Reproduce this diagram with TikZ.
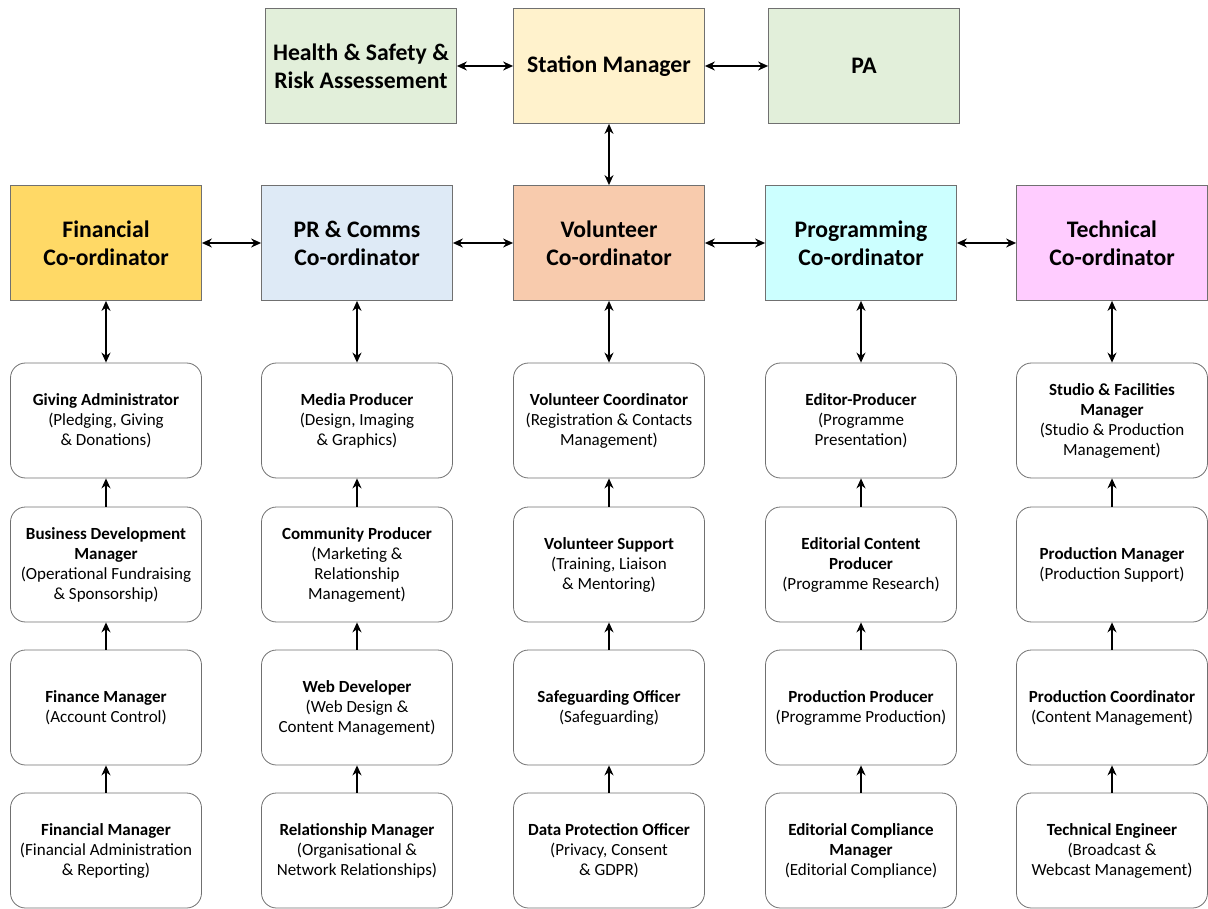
\documentclass[tikz,border=0pt]{standalone}
\usepackage{fontspec}
\setmainfont{Carlito}
\usetikzlibrary{arrows.meta}
\definecolor{cfin}{HTML}{FFD966}
\definecolor{cpr}{HTML}{DEEAF6}
\definecolor{cvol}{HTML}{F8CBAD}
\definecolor{cprog}{HTML}{CCFFFF}
\definecolor{ctech}{HTML}{FFCCFF}
\definecolor{csm}{HTML}{FFF2CC}
\definecolor{cgreen}{HTML}{E2EFDA}
\definecolor{cbord}{HTML}{707070}
\begin{document}
\begin{tikzpicture}[x=1pt,y=-1pt,
 topbox/.style={draw=cbord, line width=0.8pt, minimum width=191pt, minimum height=115pt, font=\fontsize{23.7}{28}\selectfont\bfseries, align=center, inner sep=0pt},
 subbox/.style={draw=cbord, line width=0.8pt, fill=white, rounded corners=15pt, minimum width=191pt, minimum height=115pt, font=\fontsize{17}{20}\selectfont, align=center, inner sep=0pt},
 link/.style={{Stealth[length=10pt,width=9pt]}-{Stealth[length=10pt,width=9pt]}, line width=1.3pt},
 uplink/.style={-{Stealth[length=10pt,width=9pt]}, line width=1.3pt}]
\useasboundingbox (0,0) rectangle (1208,909);

% top row
\node[topbox, fill=cgreen] (hs) at (361,66) {Health \& Safety \&\\Risk Assessement};
\node[topbox, fill=csm] (sm) at (609,66) {Station Manager};
\node[topbox, fill=cgreen] (pa) at (864,66) {PA};

% coordinators
\node[topbox, fill=cfin] (fin) at (106,243) {Financial\\Co-ordinator};
\node[topbox, fill=cpr] (pr) at (357,243) {PR \& Comms\\Co-ordinator};
\node[topbox, fill=cvol] (vol) at (609,243) {Volunteer\\Co-ordinator};
\node[topbox, fill=cprog] (prog) at (861,243) {Programming\\Co-ordinator};
\node[topbox, fill=ctech] (tech) at (1112,243) {Technical\\Co-ordinator};

% financial column
\node[subbox] (f1) at (106,420.5) {\textbf{Giving Administrator}\\(Pledging, Giving\\\& Donations)};
\node[subbox] (f2) at (106,564.5) {\textbf{Business Development}\\\textbf{Manager}\\(Operational Fundraising\\\& Sponsorship)};
\node[subbox] (f3) at (106,707.5) {\textbf{Finance Manager}\\(Account Control)};
\node[subbox] (f4) at (106,850.5) {\textbf{Financial Manager}\\(Financial Administration\\\& Reporting)};

% PR column
\node[subbox] (p1) at (357,420.5) {\textbf{Media Producer}\\(Design, Imaging\\\& Graphics)};
\node[subbox] (p2) at (357,564.5) {\textbf{Community Producer}\\(Marketing \&\\Relationship\\Management)};
\node[subbox] (p3) at (357,707.5) {\textbf{Web Developer}\\(Web Design \&\\Content Management)};
\node[subbox] (p4) at (357,850.5) {\textbf{Relationship Manager}\\(Organisational \&\\Network Relationships)};

% volunteer column
\node[subbox] (v1) at (609,420.5) {\textbf{Volunteer Coordinator}\\(Registration \& Contacts\\Management)};
\node[subbox] (v2) at (609,564.5) {\textbf{Volunteer Support}\\(Training, Liaison\\\& Mentoring)};
\node[subbox] (v3) at (609,707.5) {\textbf{Safeguarding Officer}\\(Safeguarding)};
\node[subbox] (v4) at (609,850.5) {\textbf{Data Protection Officer}\\(Privacy, Consent\\\& GDPR)};

% programming column
\node[subbox] (g1) at (861,420.5) {\textbf{Editor-Producer}\\(Programme\\Presentation)};
\node[subbox] (g2) at (861,564.5) {\textbf{Editorial Content}\\\textbf{Producer}\\(Programme Research)};
\node[subbox] (g3) at (861,707.5) {\textbf{Production Producer}\\(Programme Production)};
\node[subbox] (g4) at (861,850.5) {\textbf{Editorial Compliance}\\\textbf{Manager}\\(Editorial Compliance)};

% technical column
\node[subbox] (t1) at (1112,420.5) {\textbf{Studio \& Facilities}\\\textbf{Manager}\\(Studio \& Production\\Management)};
\node[subbox] (t2) at (1112,564.5) {\textbf{Production Manager}\\(Production Support)};
\node[subbox] (t3) at (1112,707.5) {\textbf{Production Coordinator}\\(Content Management)};
\node[subbox] (t4) at (1112,850.5) {\textbf{Technical Engineer}\\(Broadcast \&\\Webcast Management)};

% top links
\draw[link] (hs) -- (sm);
\draw[link] (sm) -- (pa);
\draw[link] (sm) -- (vol);

% coordinator links
\draw[link] (fin) -- (pr);
\draw[link] (pr) -- (vol);
\draw[link] (vol) -- (prog);
\draw[link] (prog) -- (tech);

\foreach \c/\a in {fin/f, pr/p, vol/v, prog/g, tech/t} {
  \draw[link] (\c) -- (\a1);
  \draw[uplink] (\a2) -- (\a1);
  \draw[uplink] (\a3) -- (\a2);
  \draw[uplink] (\a4) -- (\a3);
}
\end{tikzpicture}
\end{document}
